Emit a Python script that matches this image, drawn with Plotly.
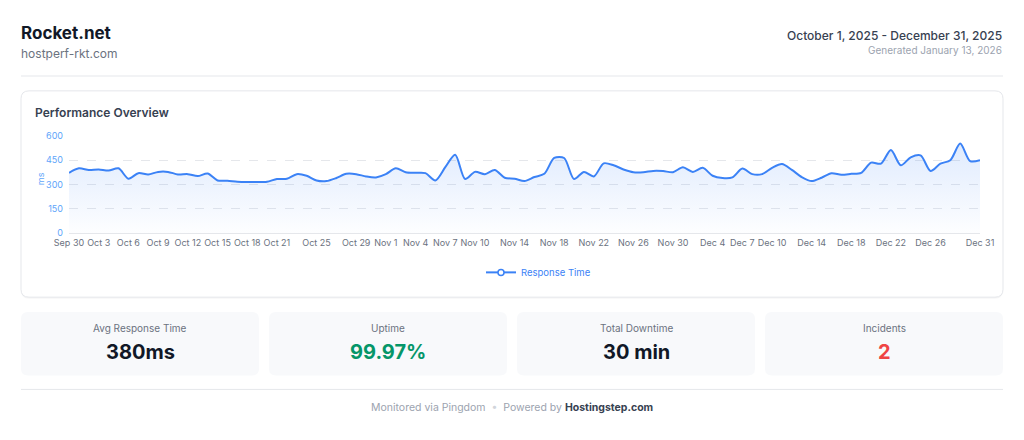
import plotly.graph_objects as go

# daily response time (ms), Sep 30 -> Dec 31 2025
dates = [
    "2025-09-30", "2025-10-01", "2025-10-02", "2025-10-03", "2025-10-04", "2025-10-05",
    "2025-10-06", "2025-10-07", "2025-10-08", "2025-10-09", "2025-10-10", "2025-10-11",
    "2025-10-12", "2025-10-13", "2025-10-14", "2025-10-15", "2025-10-16", "2025-10-17",
    "2025-10-18", "2025-10-19", "2025-10-20", "2025-10-21", "2025-10-22", "2025-10-23",
    "2025-10-24", "2025-10-25", "2025-10-26", "2025-10-27", "2025-10-28", "2025-10-29",
    "2025-10-30", "2025-10-31", "2025-11-01", "2025-11-02", "2025-11-03", "2025-11-04",
    "2025-11-05", "2025-11-06", "2025-11-07", "2025-11-08", "2025-11-09", "2025-11-10",
    "2025-11-11", "2025-11-12", "2025-11-13", "2025-11-14", "2025-11-15", "2025-11-16",
    "2025-11-17", "2025-11-18", "2025-11-19", "2025-11-20", "2025-11-21", "2025-11-22",
    "2025-11-23", "2025-11-24", "2025-11-25", "2025-11-26", "2025-11-27", "2025-11-28",
    "2025-11-29", "2025-11-30", "2025-12-01", "2025-12-02", "2025-12-03", "2025-12-04",
    "2025-12-05", "2025-12-06", "2025-12-07", "2025-12-08", "2025-12-09", "2025-12-10",
    "2025-12-11", "2025-12-12", "2025-12-13", "2025-12-14", "2025-12-15", "2025-12-16",
    "2025-12-17", "2025-12-18", "2025-12-19", "2025-12-20", "2025-12-21", "2025-12-22",
    "2025-12-23", "2025-12-24", "2025-12-25", "2025-12-26", "2025-12-27", "2025-12-28",
    "2025-12-29", "2025-12-30", "2025-12-31",
]
response_ms = [
    372, 400, 390, 393, 386, 400, 336, 370, 362, 378, 378, 362,
    364, 352, 368, 325, 323, 317, 315, 315, 317, 334, 336, 364,
    354, 325, 321, 340, 366, 364, 350, 344, 364, 401, 376, 372,
    370, 325, 407, 484, 334, 378, 364, 390, 342, 336, 321, 346,
    366, 464, 464, 334, 378, 350, 431, 419, 393, 376, 376, 384,
    383, 376, 407, 378, 403, 354, 340, 344, 399, 364, 364, 403,
    427, 390, 346, 321, 342, 370, 360, 366, 372, 435, 429, 513,
    419, 468, 480, 384, 429, 450, 553, 445, 450,
]

tick_dates = [
    "2025-09-30", "2025-10-03", "2025-10-06", "2025-10-09", "2025-10-12", "2025-10-15",
    "2025-10-18", "2025-10-21", "2025-10-25", "2025-10-29", "2025-11-01", "2025-11-04",
    "2025-11-07", "2025-11-10", "2025-11-14", "2025-11-18", "2025-11-22", "2025-11-26",
    "2025-11-30", "2025-12-04", "2025-12-07", "2025-12-10", "2025-12-14", "2025-12-18",
    "2025-12-22", "2025-12-26", "2025-12-31",
]
tick_labels = [
    "Sep 30", "Oct 3", "Oct 6", "Oct 9", "Oct 12", "Oct 15", "Oct 18", "Oct 21",
    "Oct 25", "Oct 29", "Nov 1", "Nov 4", "Nov 7", "Nov 10", "Nov 14", "Nov 18",
    "Nov 22", "Nov 26", "Nov 30", "Dec 4", "Dec 7", "Dec 10", "Dec 14", "Dec 18",
    "Dec 22", "Dec 26", "Dec 31",
]

stat_labels = ["Avg Response Time", "Uptime", "Total Downtime", "Incidents"]
stat_values = ["380ms", "99.97%", "30 min", "2"]
stat_colors = ["#111827", "#059669", "#111827", "#ef4444"]

BLUE = "#3b82f6"
FONT = "Inter, 'Noto Sans', sans-serif"

# page pixel -> paper coords (plot area is 69..980 x 135.5..233.3)
L, R, T, B = 69, 980, 135.5, 233.3


def fx(px):
    return (px - L) / (R - L)


def fy(py):
    return (B - py) / (B - T)


def rounded_rect(x0, y0, x1, y1, r):
    pts = [
        ("M", x0 + r, y0), ("L", x1 - r, y0), ("Q", x1, y0, x1, y0 + r),
        ("L", x1, y1 - r), ("Q", x1, y1, x1 - r, y1), ("L", x0 + r, y1),
        ("Q", x0, y1, x0, y1 - r), ("L", x0, y0 + r), ("Q", x0, y0, x0 + r, y0),
    ]
    out = []
    for p in pts:
        cmd, nums = p[0], p[1:]
        coords = []
        for i in range(0, len(nums), 2):
            coords.append(f"{fx(nums[i]):.5f},{fy(nums[i + 1]):.5f}")
        out.append(cmd + " " + " ".join(coords))
    return " ".join(out) + " Z"


def text(px, py, s, size, color, xanchor="left", angle=0, weight=None):
    font = dict(family=FONT, size=size, color=color)
    if weight:
        font["weight"] = weight
    return dict(
        x=fx(px), y=fy(py), xref="paper", yref="paper", text=s, showarrow=False,
        xanchor=xanchor, yanchor="middle", textangle=angle, borderpad=0,
        font=font,
    )


fig = go.Figure()
fig.add_trace(go.Scatter(
    x=dates, y=response_ms, mode="lines", showlegend=False,
    line=dict(color=BLUE, width=2, shape="spline", smoothing=0.8),
    fill="tozeroy",
    fillgradient=dict(type="vertical", colorscale=[
        [0, "rgba(59,130,246,0.01)"], [1, "rgba(59,130,246,0.16)"]]),
))
# legend entry only
fig.add_trace(go.Scatter(
    x=[None], y=[None], mode="lines+markers", name="Response Time",
    line=dict(color=BLUE, width=2),
    marker=dict(size=6, color="white", line=dict(color=BLUE, width=1.5)),
))

shapes = [
    dict(type="line", xref="paper", yref="paper", x0=fx(21), x1=fx(1003),
         y0=fy(75), y1=fy(75), line=dict(color="#e5e7eb", width=1)),
    dict(type="path", xref="paper", yref="paper", layer="below",
         path=rounded_rect(21, 91, 1003, 299.5, 8),
         fillcolor="rgba(0,0,0,0.03)", line=dict(width=0)),
    dict(type="path", xref="paper", yref="paper", layer="below",
         path=rounded_rect(21, 90, 1003, 298, 8),
         fillcolor="white", line=dict(color="#e5e7eb", width=1)),
    dict(type="line", xref="paper", yref="paper", x0=fx(21), x1=fx(1003),
         y0=fy(391), y1=fy(391), line=dict(color="#e5e7eb", width=1)),
]

annotations = [
    text(20, 32, "<b>Rocket.net</b>", 17, "#111827"),
    text(20, 52, "hostperf-rkt.com", 12, "#6b7280"),
    text(1003, 34, "October 1, 2025 - December 31, 2025", 12, "#374151", "right",
         weight=500),
    text(1003, 49, "Generated January 13, 2026", 10, "#9ca3af", "right"),
    text(34, 112, "Performance Overview", 12, "#374151", weight=600),
    text(40, 179, "ms", 9, "#60a5fa", "center", -90),
    text(512, 409,
         "Monitored via Pingdom  <span style='color:#d1d5db'>•</span>  Powered by "
         "<span style='color:#374151'><b>Hostingstep.com</b></span>",
         10.5, "#9ca3af", "center"),
]

card_x = [21, 269, 517, 765]
card_w = 238
for i, lab in enumerate(stat_labels):
    x0 = card_x[i]
    shapes.append(dict(type="path", xref="paper", yref="paper", layer="below",
                       path=rounded_rect(x0, 313, x0 + card_w, 377, 7),
                       fillcolor="#f8f9fb", line=dict(width=0)))
    cx = x0 + card_w / 2
    annotations.append(text(cx, 329, lab, 10, "#6b7280", "center"))
    annotations.append(text(cx, 353, "<b>" + stat_values[i] + "</b>", 20,
                            stat_colors[i], "center"))

fig.update_layout(
    width=1024, height=440,
    margin=dict(l=L, r=1024 - R, t=T, b=440 - B),
    paper_bgcolor="white", plot_bgcolor="rgba(0,0,0,0)",
    font=dict(family=FONT),
    shapes=shapes, annotations=annotations,
    legend=dict(orientation="h", x=fx(481), y=fy(273), xanchor="left",
                yanchor="middle", font=dict(size=9.5, color=BLUE),
                itemwidth=30, bgcolor="rgba(0,0,0,0)"),
    xaxis=dict(
        type="date", range=["2025-09-30", "2025-12-31"],
        tickvals=tick_dates, ticktext=tick_labels, tickangle=0,
        showgrid=False, zeroline=False, showline=False, ticks="",
        ticklabelstandoff=3,
        tickfont=dict(size=9, color="#6b7280"),
    ),
    yaxis=dict(
        range=[0, 600], tickvals=[0, 150, 300, 450, 600],
        showgrid=True, gridcolor="#e5e7eb", griddash="dash",
        zeroline=True, zerolinecolor="#e5e7eb", zerolinewidth=1,
        showline=False, ticks="", ticklabelstandoff=5,
        tickfont=dict(size=9, color="#60a5fa"),
    ),
)

fig.write_html("out.html", config={"displayModeBar": False},
               post_script="document.body.style.margin='0';")
